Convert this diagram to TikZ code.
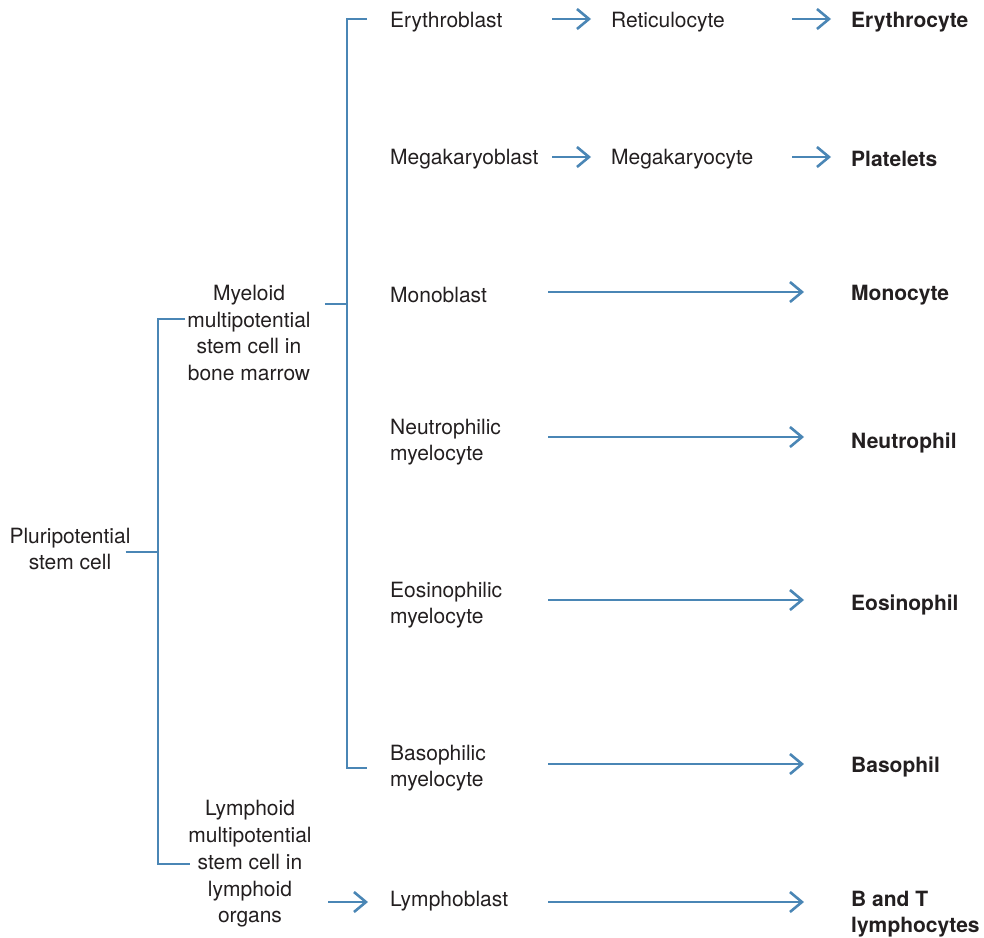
\documentclass[tikz,border=0pt]{standalone}
\usepackage{fontspec}
\setmainfont{TeX Gyre Heros}
\usetikzlibrary{arrows.meta}
\definecolor{lineblue}{RGB}{74,134,181}
\definecolor{inkgray}{RGB}{35,31,32}

\tikzset{
  txt/.style={inner sep=2pt, text=inkgray, font=\fontsize{21}{26.7}\selectfont},
  cell/.style={txt, anchor=west, align=left},
  final/.style={cell, font=\fontsize{21}{26.7}\selectfont\bfseries},
  brk/.style={draw=lineblue, line width=1.2pt},
  arr/.style={draw=lineblue, line width=2.6pt, -{Straight Barb[length=12pt,width=20pt]}},
}

\begin{document}
\begin{tikzpicture}[x=1pt,y=-1pt]
\useasboundingbox (0,0) rectangle (984,937);

%------------------------------------------------ arrow columns
\coordinate (a1) at (552,0);  \coordinate (a2) at (591,0);
\coordinate (b1) at (792,0);  \coordinate (b2) at (831,0);
\coordinate (l1) at (548,0);  \coordinate (l2) at (804,0);
\coordinate (s1) at (328,0);  \coordinate (s2) at (368,0);

%------------------------------------------------ stem cells
\node[txt, align=center] (pl) at (70,549) {Pluripotential\\stem cell};
\node[txt, align=center] (my) at (249,333) {Myeloid\\multipotential\\stem cell in\\bone marrow};
\node[txt, align=center] (ly) at (250,864) {Lymphoid\\multipotential\\stem cell in\\lymphoid\\organs};

%------------------------------------------------ precursors
\node[cell] (eb) at (388,22) {Erythroblast};
\node[cell] (mb) at (388,159) {Megakaryoblast};
\node[cell] (mo) at (388,295) {Monoblast};
\node[cell] (nm) at (388,442) {Neutrophilic\\myelocyte};
\node[cell] (em) at (388,605) {Eosinophilic\\myelocyte};
\node[cell] (bm) at (388,768) {Basophilic\\myelocyte};
\node[cell] (lb) at (388,901) {Lymphoblast};

%------------------------------------------------ intermediate
\node[cell] (rc) at (609,22) {Reticulocyte};
\node[cell] (mk) at (609,159) {Megakaryocyte};

%------------------------------------------------ mature cells
\node[final] (er) at (849,22) {Erythrocyte};
\node[final] (pt) at (849,159) {Platelets};
\node[final] (mc) at (849,295) {Monocyte};
\node[final] (np) at (849,443) {Neutrophil};
\node[final] (eo) at (849,605) {Eosinophil};
\node[final] (bs) at (849,767) {Basophil};
\node[final] (ts) at (849,914) {B and T\\lymphocytes};

%------------------------------------------------ brackets
\coordinate (ps) at (158,552);
\coordinate (ms) at (347,304);
\draw[brk] ([xshift=-7pt]pl.east |- ps) -- (ps);
\draw[brk] ([yshift=14pt]my.west) -| (ps |- ly.west) -- ([xshift=4pt]ly.west);
\draw[brk] ([xshift=12pt]my.east |- ms) -- (ms);
\draw[brk] ([xshift=-21pt,yshift=3pt]eb.west) -| (ms |- bm.west) -- ([xshift=-21pt]bm.west);

%------------------------------------------------ arrows
\draw[arr] ([yshift=3pt]eb.west -| a1) -- ([yshift=3pt]rc.west -| a2);
\draw[arr] ([yshift=3pt]rc.west -| b1) -- ([yshift=3pt]er.west -| b2);
\draw[arr] ([yshift=2pt]mb.west -| a1) -- ([yshift=2pt]mk.west -| a2);
\draw[arr] ([yshift=2pt]mk.west -| b1) -- ([yshift=2pt]pt.west -| b2);
\draw[arr] ([yshift=3pt]mo.west -| l1) -- ([yshift=3pt]mo.west -| l2);
\draw[arr] ([yshift=5pt]nm.west -| l1) -- ([yshift=5pt]nm.west -| l2);
\draw[arr] ([yshift=5pt]em.west -| l1) -- ([yshift=5pt]em.west -| l2);
\draw[arr] ([yshift=4pt]bm.west -| l1) -- ([yshift=4pt]bm.west -| l2);
\draw[arr] ([yshift=-1pt]lb.west -| s1) -- ([yshift=-1pt]lb.west -| s2);
\draw[arr] ([yshift=-1pt]lb.west -| l1) -- ([yshift=-1pt]lb.west -| l2);

\end{tikzpicture}
\end{document}
